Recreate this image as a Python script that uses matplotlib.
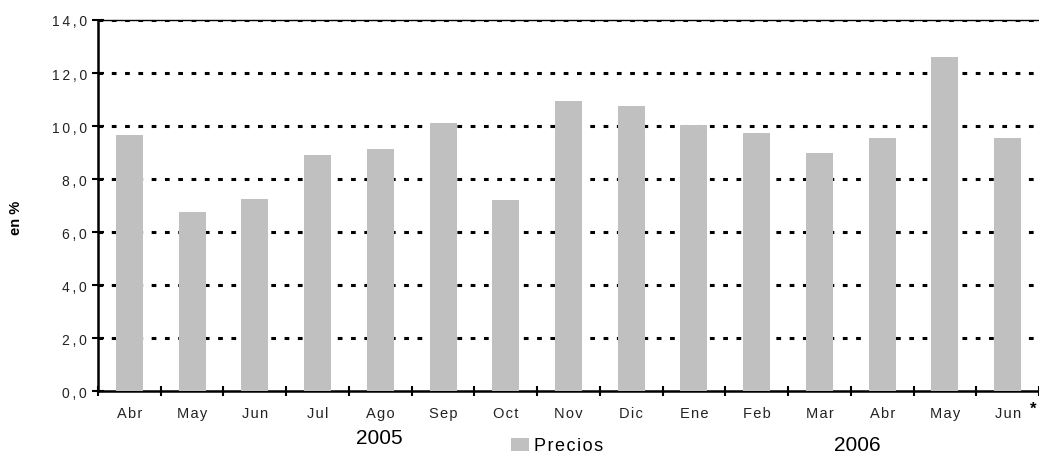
import matplotlib
matplotlib.use("Agg")
import matplotlib.pyplot as plt
import numpy as np

months = ["Abr", "May", "Jun", "Jul", "Ago", "Sep", "Oct", "Nov", "Dic",
          "Ene", "Feb", "Mar", "Abr", "May", "Jun"]
precios = [9.65, 6.75, 7.25, 8.9, 9.15, 10.1, 7.2, 10.95, 10.75,
           10.05, 9.75, 9.0, 9.55, 12.6, 9.55]
years = ["2005", "2006"]
yticks = [0, 2, 4, 6, 8, 10, 12, 14]

plt.rcParams["font.family"] = ["Liberation Sans", "DejaVu Sans"]


def spaced(s, sep="\u200a"):
    # the original renders text with loose letter spacing
    return sep.join(s)


fig = plt.figure(figsize=(10.39, 4.56), dpi=100)
ax = fig.add_axes([0.0943, 0.140, 0.9057, 0.814])

x = np.arange(len(months))
ax.bar(x, precios, width=0.43, color="#c0c0c0", zorder=3, label=spaced("Precios"))

ax.set_xlim(-0.5, len(months) - 0.5)
ax.set_ylim(0, 14)
ax.set_yticks(yticks)
ax.set_yticklabels([spaced(f"{v:.1f}".replace(".", ","), "\u2009") for v in yticks],
                   fontsize=10, color="#222222")
for v in yticks[1:]:
    ax.axhline(v, color="black", lw=2.2, ls=(0, (1.55, 2.8)), zorder=1)

# boundaries as major ticks, month names on minor ticks
ax.set_xticks(np.arange(len(months) + 1) - 0.5)
ax.set_xticklabels([])
ax.set_xticks(x, minor=True)
ax.set_xticklabels([spaced(m) for m in months], minor=True, fontsize=10.5, color="#222222")
ax.tick_params(axis="x", which="minor", length=0, pad=11)
ax.tick_params(axis="x", which="major", direction="inout", length=7, width=1.5)
ax.tick_params(axis="y", direction="inout", length=8, width=1.5, pad=4)

ax.spines["right"].set_visible(False)
ax.spines["top"].set_linewidth(1.0)
ax.spines["left"].set_linewidth(1.8)
ax.spines["bottom"].set_linewidth(1.8)

fig.text(16 / 1039, 1 - 218 / 456, "en %", fontsize=10.5, fontweight="bold",
         rotation=90, ha="center", va="center")

fig.text(379 / 1039, 1 - 439 / 456, years[0], fontsize=15, ha="center", va="center")
fig.text(857 / 1039, 1 - 446 / 456, years[1], fontsize=15, ha="center", va="center")
fig.text(1033 / 1039, 1 - 409 / 456, "*", fontsize=12, ha="center", va="center",
         fontweight="bold")

fig.legend(loc="center", bbox_to_anchor=(557 / 1039, 1 - 447 / 456), frameon=False,
           fontsize=13, handlelength=1.0, handleheight=0.7, handletextpad=0.3,
           borderpad=0, borderaxespad=0)

fig.savefig("out.png", dpi=100)
